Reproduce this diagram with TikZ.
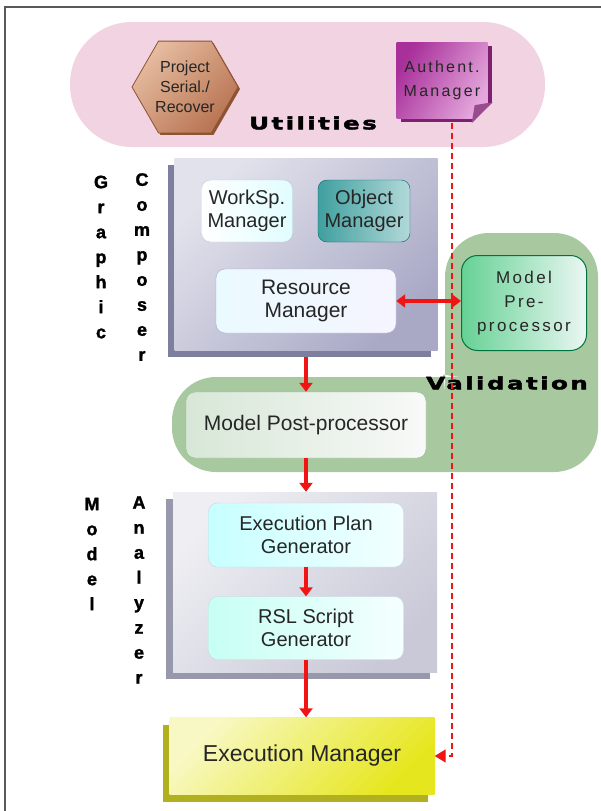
\documentclass[tikz,border=0pt]{standalone}
\usepackage{fontspec}
\setmainfont{Liberation Sans}
\newfontfamily\heavyfont[FakeStretch=1.45,FakeBold=2.5,LetterSpace=14]{DejaVu Sans}
\newfontfamily\blackfont[FakeBold=1.6]{Liberation Sans}
\newfontfamily\spacedfont[LetterSpace=14]{Liberation Sans}
\usetikzlibrary{arrows.meta,shapes.geometric,shadows,positioning}

\definecolor{pinkpill}{HTML}{F1D3E1}
\definecolor{validgreen}{HTML}{A8C8A0}
\definecolor{flowred}{HTML}{F01414}
\definecolor{textgray}{HTML}{262626}
\definecolor{hexlight}{HTML}{E6BCA0}
\definecolor{hexdark}{HTML}{B87452}
\definecolor{hexedge}{HTML}{8E5234}
\definecolor{authdark}{HTML}{A8309A}
\definecolor{authlight}{HTML}{E4A6DC}
\definecolor{authshadow}{HTML}{7E2070}
\definecolor{gcleft}{HTML}{E2E2EC}
\definecolor{gcright}{HTML}{A9A9C6}
\definecolor{gcside}{HTML}{7E7E9E}
\definecolor{maleft}{HTML}{EEEEF3}
\definecolor{maright}{HTML}{C9C9D8}
\definecolor{maside}{HTML}{9898AC}
\definecolor{emlight}{HTML}{F8F8C4}
\definecolor{emdark}{HTML}{E6E61E}
\definecolor{emside}{HTML}{B0B020}

\tikzset{
  flow/.style={draw=flowred, line width=4pt, -{Triangle[length=9pt,width=13pt]}},
  duplex/.style={draw=flowred, line width=4pt,
    {Triangle[length=9pt,width=13pt]}-{Triangle[length=9pt,width=13pt]}},
  authlink/.style={draw=flowred, line width=1.4pt, dash pattern=on 6pt off 4pt,
    -{Triangle[length=11pt,width=13pt]}},
  slab/.style={inner sep=0pt, general shadow={fill=#1, shadow xshift=-7pt, shadow yshift=-7pt}},
  module/.style={rounded corners=9pt, inner sep=0pt, align=center, text=textgray,
    shading angle=45, font=\fontsize{20}{23}\selectfont},
  vlabel/.style={align=center, inner sep=0pt, font=\blackfont\bfseries\fontsize{18}{25}\selectfont},
  heavy/.style={inner sep=0pt, font=\heavyfont\bfseries\fontsize{17}{17}\selectfont}
}

\begin{document}
\begin{tikzpicture}[x=1pt, y=-1pt]
  \useasboundingbox (0,0) rectangle (601,811);
  \draw[line width=1.5pt, black!65] (5,7) rectangle (640,850);

  \fill[pinkpill, rounded corners=62pt] (70,22) rectangle (545,147);
  \fill[validgreen, rounded corners=44pt] (445,353) -- (445,233) -- (598,233) -- (598,472)
    -- (172,472) -- (172,377) -- (421,377) .. controls (434,377) and (445,364) .. cycle;

  \node[regular polygon, regular polygon sides=6, minimum size=106pt, inner sep=0pt,
    left color=hexlight, right color=hexdark, shading angle=45, draw=hexedge, line width=0.8pt,
    general shadow={fill=hexedge, shadow xshift=2pt, shadow yshift=-2pt},
    align=center, text=textgray, font=\fontsize{16}{20}\selectfont]
    (proj) at (185,87) {Project\\Serial./\\Recover};
  \node[minimum width=91pt, minimum height=76pt, inner sep=0pt,
    left color=authdark, right color=authlight, shading angle=60,
    general shadow={fill=authshadow, shadow xshift=4pt, shadow yshift=-4pt},
    align=center, text=textgray, font=\spacedfont\fontsize{16}{24}\selectfont]
    (auth) at (442,80) {Authent.\\Manager};
  \fill[pinkpill] ([shift={(-16,5)}]auth.south east) -- ([shift={(5,-16)}]auth.south east)
    -- ([shift={(6,6)}]auth.south east) -- cycle;
  \fill[authshadow!80] ([shift={(-16,5)}]auth.south east) -- ([shift={(5,-16)}]auth.south east)
    -- ([shift={(-13,-13)}]auth.south east) -- cycle;
  \node[heavy] (util) at (313,123) {Utilities};

  \node[vlabel] (graphic) at (101,257) {G\\r\\a\\p\\h\\i\\c};
  \node[vlabel] (composer) at (142,267) {C\\o\\m\\p\\o\\s\\e\\r};
  \node[slab=gcside, minimum width=263pt, minimum height=192pt,
    left color=gcleft, right color=gcright, shading angle=45] (gc) at (306,254) {};
  \node[module, minimum width=91pt, minimum height=62pt, left color=white,
    right color=blue!8!cyan!12, draw=cyan!20!gray!50] (ws) at (247,211) {WorkSp.\\Manager};
  \node[module, minimum width=92pt, minimum height=62pt, left color=teal!75,
    right color=teal!30, draw=teal!80!black] (om) at (364,211) {Object\\Manager};
  \node[module, font=\fontsize{21}{23}\selectfont, minimum width=180pt, minimum height=64pt,
    left color=blue!22!cyan!8, right color=blue!4, draw=blue!30!gray!50]
    (rm) at (306,301) {Resource\\Manager};

  \node[module, rounded corners=16pt, minimum width=125pt, minimum height=95pt,
    left color=green!40!teal!60, right color=green!20!teal!8, draw=green!30!teal!70!black,
    line width=1pt, font=\spacedfont\fontsize{17}{24}\selectfont]
    (pre) at (524,303) {Model\\Pre-\\processor};
  \node[heavy] (valid) at (507,383) {Validation};
  \node[module, font=\fontsize{21}{23}\selectfont, minimum width=240pt, minimum height=66pt,
    left color=green!25!gray!25, right color=green!5!gray!5, draw=green!30!gray!70]
    (post) at (306,425) {Model Post-processor};

  \node[vlabel] (model) at (92,554) {M\\o\\d\\e\\l};
  \node[vlabel] (analyzer) at (139,590) {A\\n\\a\\l\\y\\z\\e\\r};
  \node[slab=maside, minimum width=264pt, minimum height=180pt,
    left color=maleft, right color=maright, shading angle=45] (ma) at (305,582) {};
  \node[module, minimum width=195pt, minimum height=64pt, left color=cyan!22,
    right color=cyan!5, draw=cyan!30!gray!40] (ep) at (306,535) {Execution Plan\\Generator};
  \node[module, minimum width=195pt, minimum height=63pt, left color=green!20!cyan!22,
    right color=cyan!4, draw=cyan!30!gray!40] (rsl) at (306,628) {RSL Script\\Generator};

  \node[slab=emside, minimum width=265pt, minimum height=77pt, left color=emlight,
    right color=emdark, shading angle=45, text=textgray, font=\fontsize{23}{26}\selectfont]
    (em) at (302,756) {Execution Manager};

  \draw[flow, shorten <=7pt] (gc) -- (post);
  \draw[flow] (post) -- (post |- ma.north);
  \draw[flow] (ep) -- (rsl);
  \draw[flow] (rsl.south) -- (rsl.south |- em.north);
  \draw[duplex] (rm.east) -- (rm.east -| pre.west);
  \draw[authlink] ([shift={(10,5)}]auth.south) |- (em.east);
\end{tikzpicture}
\end{document}
